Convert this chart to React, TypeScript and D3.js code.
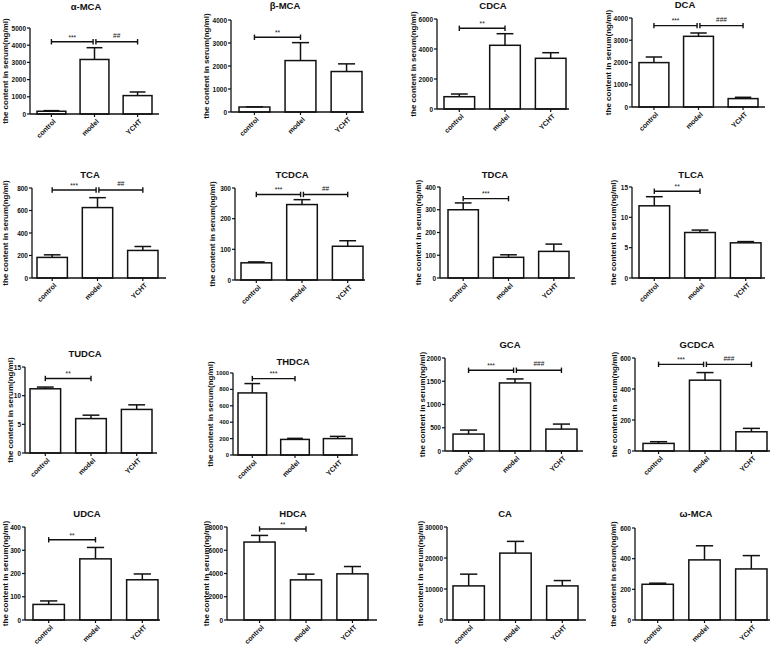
import React from "react";
import * as d3 from "d3";

const groups = ["control", "model", "YCHT"];
const titles = ["α-MCA", "β-MCA", "CDCA", "DCA", "TCA", "TCDCA", "TDCA", "TLCA", "TUDCA", "THDCA", "GCA", "GCDCA", "UDCA", "HDCA", "CA", "ω-MCA"];
const means = [
  [160, 3170, 1070], [217, 2236, 1760], [820, 4247, 3380], [1995, 3177, 377],
  [183, 626, 245], [56, 246, 110], [300, 91, 117], [11.9, 7.5, 5.8],
  [11.2, 6.0, 7.6], [757, 190, 200], [364, 1464, 471], [49, 457, 124],
  [67, 263, 173], [6705, 3452, 3970], [11000, 21580, 11000], [233, 392, 333],
];
const errTops = [
  [195, 3855, 1280], [225, 3016, 2093], [1000, 5020, 3753], [2247, 3326, 436],
  [206, 714, 280], [59, 262, 128], [330, 102, 149], [13.4, 7.9, 6.0],
  [11.5, 6.6, 8.4], [871, 203, 227], [450, 1550, 579], [60, 506, 146],
  [82, 312, 198], [7275, 3944, 4600], [14790, 25360, 12720], [240, 484, 420],
];
const yMaxes = [5000, 4000, 6000, 4000, 800, 300, 400, 15, 15, 1000, 2000, 600, 400, 8000, 30000, 600];
const ySteps = [1000, 1000, 2000, 1000, 200, 100, 100, 5, 5, 200, 500, 200, 100, 2000, 10000, 200];
const yLabel = "the content in serum(ng/ml)";

// [panel, fromGroup, toGroup, value, label]
const sigPanel = [0, 0, 1, 2, 3, 3, 4, 4, 5, 5, 6, 7, 8, 9, 10, 10, 11, 11, 12, 13];
const sigFrom = [0, 1, 0, 0, 0, 1, 0, 1, 0, 1, 0, 0, 0, 0, 0, 1, 0, 1, 0, 0];
const sigTo = [1, 2, 1, 1, 1, 2, 1, 2, 1, 2, 1, 1, 1, 1, 1, 2, 1, 2, 1, 1];
const sigValue = [4200, 4200, 3250, 5380, 3658, 3658, 782, 782, 279, 279, 349, 14.3, 13, 932, 1736, 1736, 559, 559, 345, 7827];
const sigLabel = ["***", "##", "**", "**", "***", "###", "***", "##", "***", "##", "***", "**", "**", "***", "***", "###", "***", "###", "**", "**"];

// layout: ax, axEnd, barL, barR, yTop, y0, titleX, titleY, ylabX, tickFont
const layout = [
  [30, 159, 37, 152, 28, 114, 86, 6, 5, 6.5],
  [231, 364, 239, 362, 20, 112, 285, 5, 206, 6.5],
  [437, 569, 444, 566, 19, 109, 493, 5, 413, 6.5],
  [632, 765, 639, 758, 18, 107, 685, 4, 608, 6.5],
  [32, 166, 37, 158, 188, 278, 90, 174, 5, 6.5],
  [235, 365, 241, 363, 188, 280, 292, 174, 212, 6.5],
  [440, 575, 448, 569, 187, 278, 495, 174, 418, 6.5],
  [632, 765, 639, 761, 187, 278, 691, 174, 613, 6.5],
  [25, 157, 30, 152, 367, 453, 85, 353, 10, 6.5],
  [233, 358, 238, 352, 373, 455, 293, 361, 210, 5.8],
  [445, 583, 453, 577, 358, 451, 510, 344, 422, 6.5],
  [635, 770, 643, 767, 358, 451, 697, 344, 614, 6.5],
  [25, 160, 33, 158, 527, 620, 87, 513, 5, 6.5],
  [227, 377, 244, 368, 527, 620, 293, 513, 206, 6.5],
  [447, 586, 453, 578, 527, 620, 505, 513, 420, 6.5],
  [635, 770, 642, 767, 528, 620, 696, 513, 613, 6.5],
];

const FONT = "'Liberation Sans', Arial, sans-serif";
const INK = "#111";

function Panel({ i }: { i: number }) {
  const [ax, axEnd, barL, barR, yTop, y0, tx, ty, lx, tf] = layout[i];
  const y = d3.scaleLinear().domain([0, yMaxes[i]]).range([y0, yTop]);
  const x = d3.scaleBand().domain(groups).range([barL, barR]).paddingInner(0.33);
  const bw = x.bandwidth();
  const ticks = d3.range(0, yMaxes[i] + ySteps[i] / 2, ySteps[i]);
  const cx = (g: string) => (x(g) as number) + bw / 2;
  const capW = bw * 0.55;
  const brackets = sigPanel.map((p, k) => ({ p, k })).filter((d) => d.p === i);
  return (
    <g>
      <text x={tx} y={ty} textAnchor="middle" dominantBaseline="central" fontFamily={FONT} fontWeight="bold" fontSize={9.5} fill={INK}>
        {titles[i]}
      </text>
      <text transform={`translate(${lx},${(yTop + y0) / 2}) rotate(-90)`} textAnchor="middle" dominantBaseline="central" fontFamily={FONT} fontWeight="bold" fontSize={8} fill={INK}>
        {yLabel}
      </text>
      {groups.map((g, j) => {
        const v = means[i][j];
        const e = errTops[i][j];
        return (
          <g key={g}>
            <rect x={x(g)} y={y(v)} width={bw} height={y0 - y(v)} fill="#fff" stroke={INK} strokeWidth={1.5} />
            <line x1={cx(g)} x2={cx(g)} y1={y(v)} y2={y(e)} stroke={INK} strokeWidth={1.5} />
            <line x1={cx(g) - capW / 2} x2={cx(g) + capW / 2} y1={y(e)} y2={y(e)} stroke={INK} strokeWidth={1.5} />
          </g>
        );
      })}
      <line x1={ax} x2={ax} y1={y0} y2={yTop} stroke={INK} strokeWidth={1.3} />
      <line x1={ax} x2={axEnd} y1={y0} y2={y0} stroke={INK} strokeWidth={1.3} />
      {ticks.map((t) => (
        <g key={t}>
          <line x1={ax - 3} x2={ax} y1={y(t)} y2={y(t)} stroke={INK} strokeWidth={1.2} />
          <text x={ax - 4} y={y(t)} textAnchor="end" dominantBaseline="central" fontFamily={FONT} fontWeight="bold" fontSize={tf} fill={INK}>
            {String(t)}
          </text>
        </g>
      ))}
      {groups.map((g) => (
        <g key={"t" + g}>
          <line x1={cx(g)} x2={cx(g)} y1={y0} y2={y0 + 3} stroke={INK} strokeWidth={1.2} />
          <text transform={`translate(${cx(g) + 3},${y0 + 6}) rotate(-45)`} textAnchor="end" dominantBaseline="central" fontFamily={FONT} fontWeight="bold" fontSize={7} fill={INK}>
            {g}
          </text>
        </g>
      ))}
      {brackets.map(({ k }) => {
        const a = groups[sigFrom[k]];
        const b = groups[sigTo[k]];
        const hasRight = brackets.some((d) => sigFrom[d.k] === sigTo[k]);
        const hasLeft = brackets.some((d) => sigTo[d.k] === sigFrom[k]);
        const x1 = cx(a) + (hasLeft ? 1.4 : 0);
        const x2 = cx(b) - (hasRight ? 1.4 : 0);
        const yy = y(sigValue[k]);
        const isStar = sigLabel[k].startsWith("*");
        return (
          <g key={"s" + k}>
            <line x1={x1} x2={x2} y1={yy} y2={yy} stroke={INK} strokeWidth={1.4} />
            <line x1={x1} x2={x1} y1={yy - 2.7} y2={yy + 2.7} stroke={INK} strokeWidth={1.4} />
            <line x1={x2} x2={x2} y1={yy - 2.7} y2={yy + 2.7} stroke={INK} strokeWidth={1.4} />
            <text x={(x1 + x2) / 2} y={yy - (isStar ? 2.2 : 3.8)} textAnchor="middle" fontFamily={FONT} fontSize={6.5} fill={INK}>
              {sigLabel[k]}
            </text>
          </g>
        );
      })}
    </g>
  );
}

export default function App() {
  return (
    <svg width={778} height={648} style={{ position: "absolute", left: 0, top: 0, background: "#fff" }}>
      <rect width={778} height={648} fill="#fff" />
      {titles.map((_, i) => (
        <Panel key={i} i={i} />
      ))}
    </svg>
  );
}
